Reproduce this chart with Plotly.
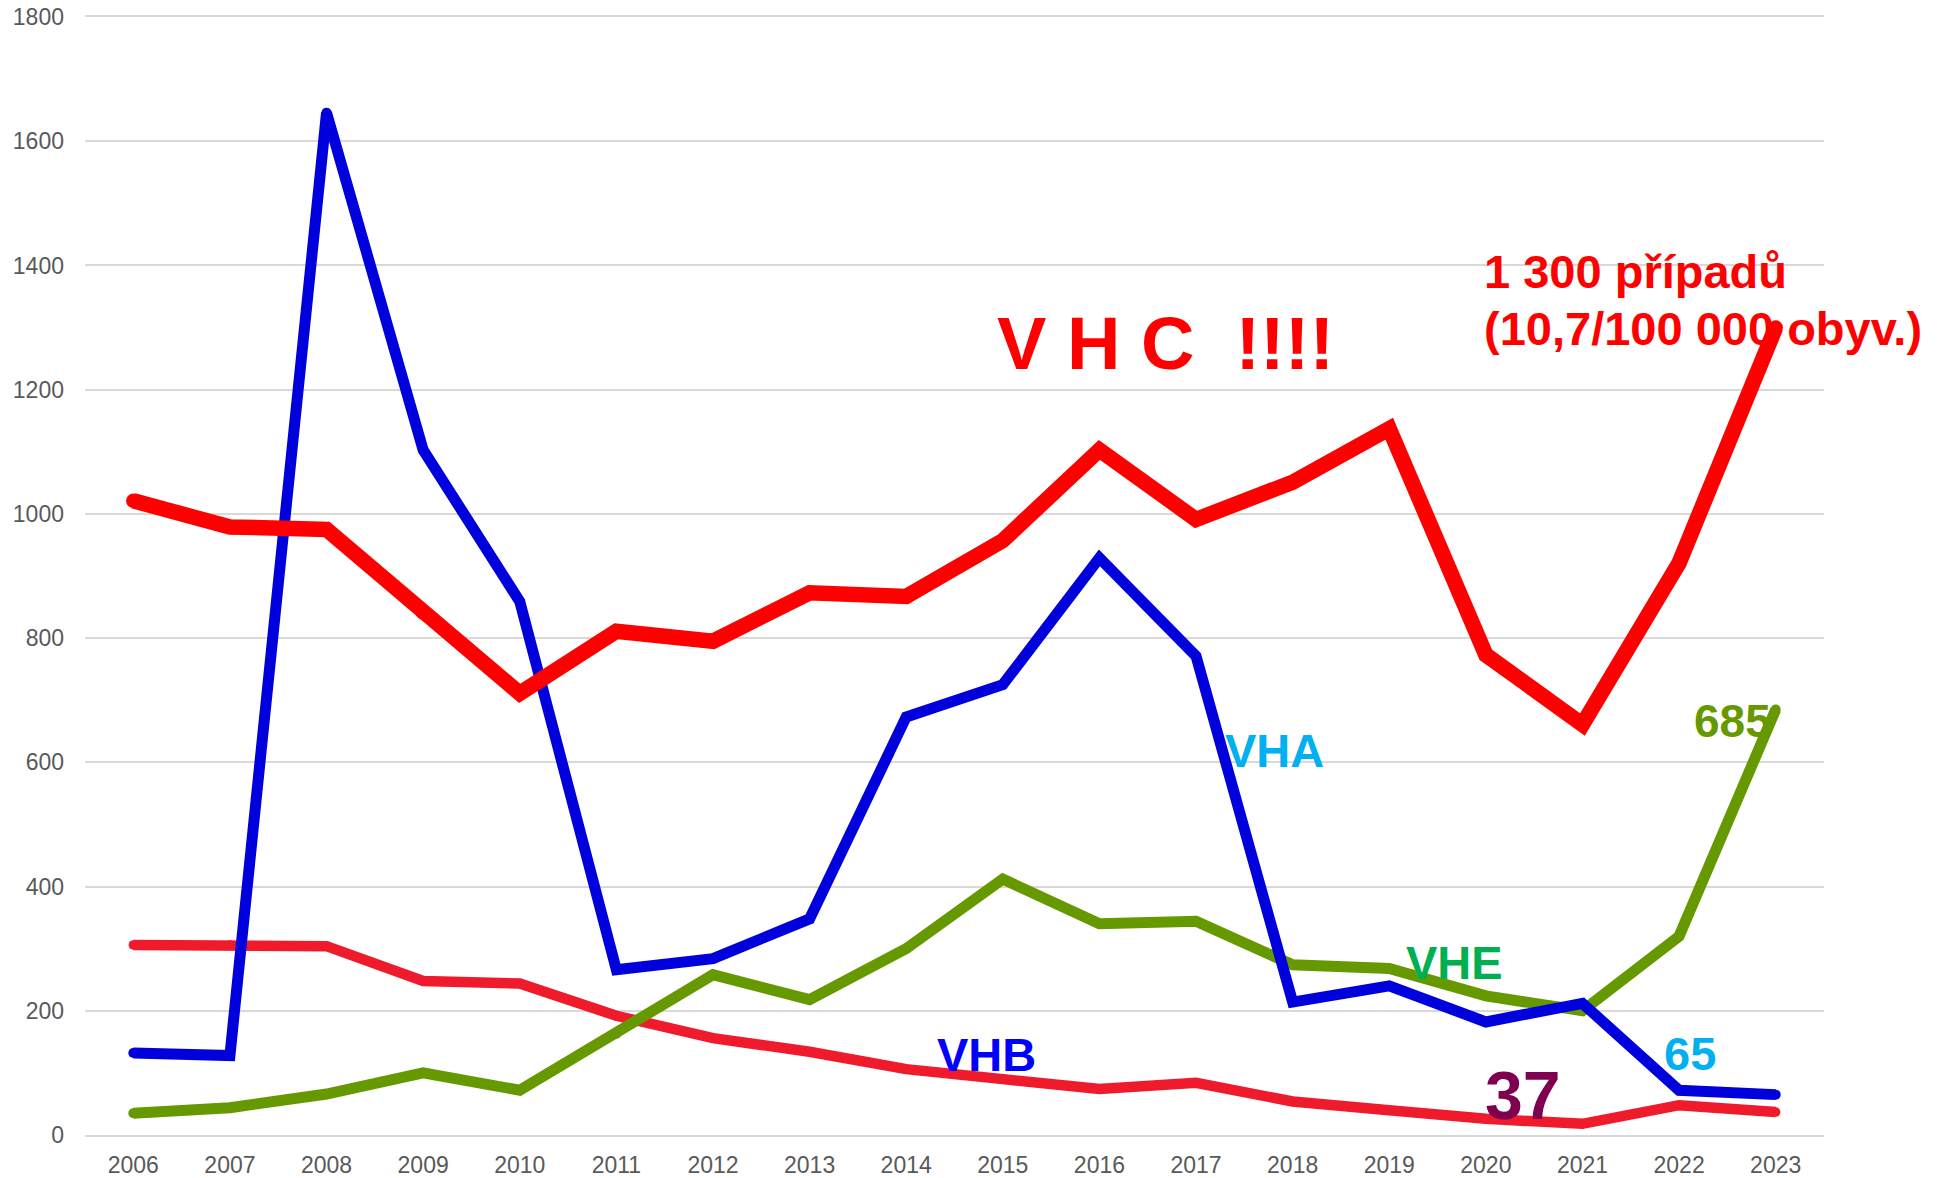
import plotly.graph_objects as go

years = [str(y) for y in range(2006, 2024)]

# Hepatitis series
vha = [132, 128, 1646, 1103, 859, 266, 284, 348, 673, 725, 929, 771, 214, 240, 182, 212, 72, 65]      # blue
vhb = [306, 306, 304, 248, 244, 192, 156, 134, 106, 90, 74, 84, 54, 40, 26, 18, 48, 37]               # crimson
vhc = [1021, 979, 975, 841, 711, 811, 795, 873, 867, 957, 1103, 991, 1051, 1137, 773, 661, 921, 1300]  # red
vhe = [35, 44, 66, 100, 72, 163, 258, 218, 300, 412, 340, 344, 274, 268, 224, 200, 320, 685]           # green

y_ticks = [0, 200, 400, 600, 800, 1000, 1200, 1400, 1600, 1800]

FONT = "Liberation Sans, Arial, sans-serif"

fig = go.Figure()

def add_line(vals, color, width):
    fig.add_trace(go.Scatter(
        x=years, y=vals, mode="lines+markers",
        line=dict(color=color, width=width),
        marker=dict(color=color, size=width - 1, line=dict(width=0)),
        showlegend=False, hoverinfo="skip",
    ))

add_line(vhb, "#EF1B2D", 10.5)
add_line(vhe, "#669900", 11)
add_line(vha, "#0000DC", 11)
add_line(vhc, "#FF0000", 15.5)

def ann(text, x, y, size, color, xanchor="center", align="center"):
    fig.add_annotation(
        x=x, y=y, xref="x", yref="y", text=text, showarrow=False,
        xanchor=xanchor, yanchor="middle", align=align,
        font=dict(family=FONT, size=size, color=color, weight="bold"),
    )

ann("V\u00a0H\u00a0C\u00a0\u00a0!!!!", 10.68, 1274, 74, "#FF0000")
ann("1 300 případů", 13.96, 1391, 47, "#FF0000", xanchor="left", align="left")
ann("(10,7/100 000 obyv.)", 13.96, 1299, 47, "#FF0000", xanchor="left", align="left")
ann("VHA", 11.81, 619, 47, "#00B0F0")
ann("VHB", 8.835, 130, 47, "#0000FF")
ann("VHE", 13.68, 277, 47, "#00B050")
ann("685", 16.55, 667, 46, "#669900")
ann("65", 16.11, 131, 47, "#00B0F0")
ann("37", 14.38, 65, 68, "#800050")

fig.update_layout(
    width=1949, height=1178,
    margin=dict(l=85, r=125, t=17, b=43),
    paper_bgcolor="white", plot_bgcolor="white",
    font=dict(family=FONT, size=23, color="#595959"),
    xaxis=dict(
        type="category", range=[-0.5, 17.5], showgrid=False, zeroline=False,
        showline=True, mirror=True, linecolor="#D9D9D9", linewidth=2,
        ticks="", tickfont=dict(size=23, color="#595959"), automargin=False,
        ticklabelstandoff=8,
    ),
    yaxis=dict(
        range=[0, 1800], tickvals=y_ticks, showgrid=True, gridcolor="#D9D9D9",
        gridwidth=2, zeroline=False, showline=False, ticks="",
        tickfont=dict(size=23, color="#595959"), ticklabelstandoff=20,
        automargin=False,
    ),
)

fig.write_html("out.html", config={"displayModeBar": False})

# remove the default page margin so the figure sits at the window origin
with open("out.html", "r", encoding="utf-8") as f:
    html = f.read()
html = html.replace("<head>", "<head><style>html,body{margin:0;padding:0;overflow:hidden;}</style>", 1)
with open("out.html", "w", encoding="utf-8") as f:
    f.write(html)
